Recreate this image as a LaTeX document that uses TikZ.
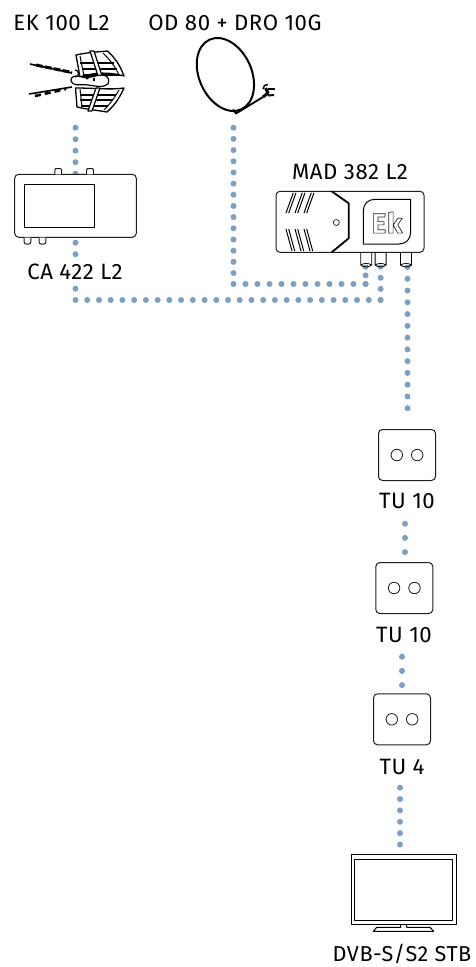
\documentclass[tikz,border=0pt]{standalone}
\usepackage{xcolor}
\usepackage{fontspec}
\setmainfont[LetterSpace=2.5]{Fira Sans}
\usetikzlibrary{positioning, backgrounds, calc}
\definecolor{dotblue}{RGB}{124, 159, 196}
\definecolor{linegray}{RGB}{30, 30, 30}

\begin{document}
\begin{tikzpicture}[
    x=1pt, y=-1pt, % Work in reference pixels, y pointing down
    line join=round,
    % Dotted cable, takes dot spacing as argument
    cable/.style={
        draw=dotblue,
        line width=6pt,
        line cap=round,
        dash pattern=on 0pt off #1
    },
    % Device label
    devlabel/.style={
        font=\fontsize{22.2}{25}\selectfont,
        text=black,
        fill=white,
        inner sep=1pt
    },
    % Main device bodies
    body/.style={
        rectangle,
        rounded corners=4pt,
        draw=linegray,
        line width=1pt,
        fill=white,
        inner sep=0pt
    },
    plate/.style={body, minimum width=57pt, minimum height=51pt},
    socket/.style={circle, draw=linegray, line width=0.8pt, fill=white, minimum size=11.5pt, inner sep=0pt},
    port/.style={draw=linegray, line width=1pt, fill=white},
    fine/.style={draw=black, line width=1pt},
    heavy/.style={draw=black, line width=1.8pt}
]
\useasboundingbox (0,0) rectangle (475,967);

% Device bodies
\node[body, minimum width=121.6pt, minimum height=63pt] (ca) at (75.5,205.8) {};
\node[body, minimum width=148pt, minimum height=61pt] (mad) at (350,221.8) {};
\node[plate] (tuA) at (407,455) {};
\node[plate] (tuB) at (404.3,588) {};
\node[plate] (tuC) at (402,719.3) {};
\node[inner sep=0pt, minimum width=105pt, minimum height=69pt] (tv) at (403.7,889.5) {};
\node[inner sep=0pt, minimum width=70pt, minimum height=70pt] (ant) at (75.5,85) {};
\node[inner sep=0pt, minimum width=60pt, minimum height=76pt] (dish) at (233.5,76) {};

% Labels
\node[devlabel] (antlbl) at (61.5,23) {EK 100 L2};
\node[devlabel] (dishlbl) at (235,23) {OD 80 + DRO 10G};
\node[devlabel] (calbl) at (75,272) {CA 422 L2};
\node[devlabel] (madlbl) at (350,172) {MAD 382 L2};
\node[devlabel] (tuAlbl) at (407,501) {TU 10};
\node[devlabel] (tuBlbl) at (404,635) {TU 10};
\node[devlabel] (tuClbl) at (402,767) {TU 4};
\node[devlabel, font=\fontsize{21.6}{25}\selectfont, inner sep=0pt] (tvlbl) at (402,953.5) {DVB-S/S2 STB};

% Cable ends
\coordinate (bendA) at (75.5,300);
\coordinate (bendB) at (233.5,284);
\coordinate (portA) at (365.6,266.7);
\coordinate (portB) at (380.6,266.7);
\coordinate (portC) at (407.5,267);
\coordinate (teeA) at (365.6,284);
\coordinate (teeB) at (380.6,300);

% Cables, behind everything
\begin{pgfonlayer}{background}
    \draw[cable=11.5pt] (ant.south) ++(0,7.5) -- (bendA);
    \draw[cable=11.73pt] (bendA) -- (teeB);
    \draw[cable=11.18pt] (dish.south) ++(0,13.5) -- (bendB);
    \draw[cable=12pt] (bendB) -- (teeA);
    \draw[cable=8.65pt] (portA) -- (teeA);
    \draw[cable=11.1pt] (portB) -- (teeB);
    \draw[cable=11.77pt] (portC) -- ++(0,153);
    \draw[cable=14.2pt] (405,523.7) -- (405,552.1);
    \draw[cable=14.2pt] (402,656.7) -- (402,685.1);
    \draw[cable=11.36pt] (400,787.7) -- (400,844.5);
\end{pgfonlayer}

% Sockets on the wall plates
\foreach \tu in {tuA, tuB, tuC} {
    \node[socket] (\tu l) at ($(\tu)+(-10.2,0)$) {};
    \node[socket] (\tu r) at ($(\tu)+(10.2,0)$) {};
}

% CA 422 L2
\draw[fine] (24.3,184.3) rectangle (94.7,227);
\foreach \x in {58.2, 90} {
    \draw[port, rounded corners=1pt] (\x-3.3,174.3) -- (\x-3.3,168.5) -- (\x+3.3,168.5) -- (\x+3.3,174.3);
}
\foreach \x in {27.5, 42.5} {
    \draw[port, rounded corners=2pt] (\x-3.3,237.6) -- (\x-3.3,244) -- (\x+3.3,244) -- (\x+3.3,237.6);
}

% MAD 382 L2
\foreach \x in {366.2, 380.6, 406} {
    \fill[white] (\x-5.5,252.5) rectangle (\x+5.5,265);
    \draw[fine, line width=0.8pt] (\x-5.5,252.5) -- (\x-5.5,265) .. controls (\x-3,267.5) and (\x+3,267.5) .. (\x+5.5,265) -- (\x+5.5,252.5);
    \draw[fine, line width=0.8pt] (\x-5.5,265) .. controls (\x-3,263) and (\x+3,263) .. (\x+5.5,265);
}
\draw[heavy] (331.7,191.3) -- (348.7,203.3) -- (348.7,238.3) -- (331.7,252.3);
\node[circle, draw=linegray, line width=0.7pt, minimum size=6pt, inner sep=0pt] (madled) at (336.3,222.5) {};
\foreach \d in {0, 9, 18} {
    \draw[fine] (293.3+\d,192.7) -- (286+\d,213);
    \draw[fine] (296+\d,192.7) -- (288.7+\d,213);
    \draw[fine] (286+\d,229) -- (292+\d,251);
    \draw[fine] (288.7+\d,229) -- (294.7+\d,251);
}
\draw[fine] (410.7,199.3) -- (375,199.3) .. controls (368,199.3) and (363.3,204) .. (363.3,211) -- (363.3,244) -- (399,244) .. controls (406,244) and (410.7,239) .. (410.7,232) -- cycle;
\node[font=\fontsize{28}{28}\selectfont\bfseries, inner sep=0pt] (eklogo) at (387,222.5) {\special{pdf:code 1 Tr 0.7 w 0.15 G}Ek\special{pdf:code 0 Tr}};

% TV set
\draw[fine] (tv.north west) rectangle (tv.south east);
\draw[fine] (354.7,859) rectangle (452.7,920.3);
\draw[fine] (400.7,924) -- (400.7,927.3) -- (376.7,927.3) -- (373.3,931.3) -- (433.7,931.3) -- (430,927.3) -- (406.7,927.3) -- (406.7,924);

% Dish
\draw[heavy, line width=2pt, rotate around={-65.5:(225.4,74.5)}] (225.4,74.5) ellipse [x radius=38.3pt, y radius=26.2pt];
\draw[heavy] (233,109.5) -- (236,113.5) -- (263,97);
\draw[heavy, line width=3pt] (263,97) -- (268,93) -- (265.5,88);
\draw[heavy, line width=2pt] (268,88.5) -- (275,88.5);
\draw[heavy, line width=2pt] (268,95.5) -- (274,95);
\draw[heavy, line width=1.4pt] (263,89) .. controls (263,86) and (265,84.5) .. (268,84.5);

% Antenna
\filldraw[heavy, fill=white, line width=1.3pt] (76,55) .. controls (90,52) and (98,52) .. (107.5,51) .. controls (115,58) and (120,65) .. (124,76) .. controls (110,72) and (95,72) .. (80,77) -- cycle;
\filldraw[heavy, fill=white, line width=1.3pt] (75.5,88) .. controls (95,88) and (110,90) .. (124,88) .. controls (120,97) and (115,105) .. (107,112) .. controls (95,110) and (85,109) .. (77,107) -- cycle;
\draw[fine] (80,56) -- (84,76);
\draw[fine] (103,53) .. controls (110,60) and (115,66) .. (119,75);
\draw[fine] (80,89) -- (82,107);
\draw[fine] (119,90) .. controls (115,97) and (110,104) .. (104,110);
\foreach \y/\a/\b in {63/80/114, 69/82/117, 75/83/120} {
    \draw[fine, line width=1.3pt] (\a,\y) -- (\b,\y);
}
\foreach \y/\a/\b in {95/80/116, 100/80/113, 106/81/108} {
    \draw[fine, line width=1.3pt] (\a,\y) -- (\b,\y);
}
\filldraw[heavy, fill=white, line width=1.2pt] (90,51) -- (94,51) -- (104,82) -- (100,82) -- cycle;
\filldraw[heavy, fill=white, line width=1.2pt] (96,88) -- (100,88) -- (92,111) -- (88,111) -- cycle;
\filldraw[heavy, fill=white, line width=1.2pt] (71,80) .. controls (71,76) and (76,75) .. (82,77) .. controls (90,79) and (95,75) .. (102,75) .. controls (108,75) and (110,80) .. (108,84) .. controls (104,88) and (95,86) .. (88,85) .. controls (82,84) and (72,87) .. (71,80) -- cycle;
\fill[black] (82,75) -- (93,75) -- (87,79.5) -- cycle;
\draw[fine, line width=1.2pt] (75,77) arc[start angle=90, end angle=-90, radius=3.5];
\draw[fine, dashed, line width=1.2pt] (94,78) -- (94,84);
\draw[heavy, line width=1.6pt] (30,64) -- (72,73);
\draw[heavy, line width=3pt, dash pattern=on 7pt off 2pt] (36,65) -- (72,72.5);
\draw[heavy, line width=1.6pt] (29,94) -- (72,87);
\draw[heavy, line width=2.6pt, dash pattern=on 6pt off 4pt] (35,96) -- (66,89);
\end{tikzpicture}
\end{document}
